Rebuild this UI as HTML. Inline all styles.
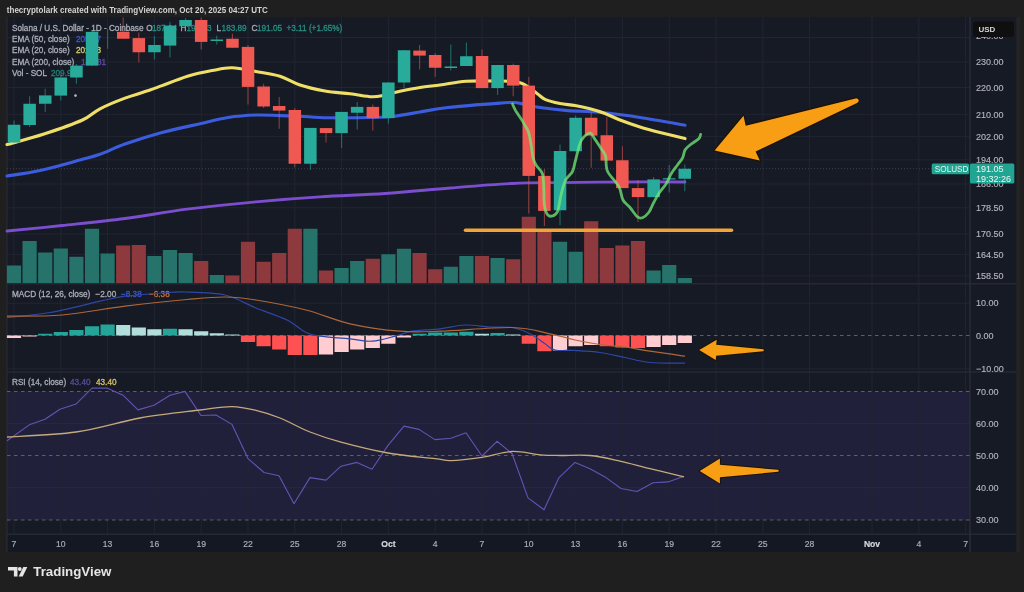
<!DOCTYPE html><html><head><meta charset="utf-8"><style>
html,body{margin:0;padding:0;background:#1f1f1f;width:1024px;height:592px;overflow:hidden}
svg{display:block;will-change:transform;filter:blur(0.35px)}
text{font-family:"Liberation Sans",sans-serif}
</style></head><body>
<svg width="1024" height="592" viewBox="0 0 1024 592">
<rect x="0" y="0" width="1024" height="592" fill="#1f1f1f"/>
<g opacity="0.996">

<rect x="1016.2" y="17" width="3.7" height="535" fill="#252525"/>
<rect x="7" y="17" width="1009.2" height="517" fill="#161a25"/>
<rect x="7" y="534" width="1009.2" height="18" fill="#141823"/>
<rect x="7" y="391.5" width="963" height="128.5" fill="#22213b"/>
<line x1="7" y1="37.5" x2="970" y2="37.5" stroke="#222633" stroke-width="1"/>
<line x1="7" y1="62.0" x2="970" y2="62.0" stroke="#222633" stroke-width="1"/>
<line x1="7" y1="87.5" x2="970" y2="87.5" stroke="#222633" stroke-width="1"/>
<line x1="7" y1="114.3" x2="970" y2="114.3" stroke="#222633" stroke-width="1"/>
<line x1="7" y1="136.6" x2="970" y2="136.6" stroke="#222633" stroke-width="1"/>
<line x1="7" y1="159.8" x2="970" y2="159.8" stroke="#222633" stroke-width="1"/>
<line x1="7" y1="184.0" x2="970" y2="184.0" stroke="#222633" stroke-width="1"/>
<line x1="7" y1="207.7" x2="970" y2="207.7" stroke="#222633" stroke-width="1"/>
<line x1="7" y1="234.0" x2="970" y2="234.0" stroke="#222633" stroke-width="1"/>
<line x1="7" y1="254.6" x2="970" y2="254.6" stroke="#222633" stroke-width="1"/>
<line x1="7" y1="275.9" x2="970" y2="275.9" stroke="#222633" stroke-width="1"/>
<line x1="7" y1="303.25" x2="970" y2="303.25" stroke="#222633" stroke-width="1"/>
<line x1="7" y1="368.75" x2="970" y2="368.75" stroke="#222633" stroke-width="1"/>
<line x1="7" y1="423.6" x2="970" y2="423.6" stroke="#2a2942" stroke-width="1"/>
<line x1="7" y1="487.7" x2="970" y2="487.7" stroke="#2a2942" stroke-width="1"/>
<line x1="14.0" y1="17" x2="14.0" y2="534" stroke="#222633" stroke-width="1"/>
<line x1="60.8" y1="17" x2="60.8" y2="534" stroke="#222633" stroke-width="1"/>
<line x1="107.6" y1="17" x2="107.6" y2="534" stroke="#222633" stroke-width="1"/>
<line x1="154.4" y1="17" x2="154.4" y2="534" stroke="#222633" stroke-width="1"/>
<line x1="201.2" y1="17" x2="201.2" y2="534" stroke="#222633" stroke-width="1"/>
<line x1="248.0" y1="17" x2="248.0" y2="534" stroke="#222633" stroke-width="1"/>
<line x1="294.8" y1="17" x2="294.8" y2="534" stroke="#222633" stroke-width="1"/>
<line x1="341.6" y1="17" x2="341.6" y2="534" stroke="#222633" stroke-width="1"/>
<line x1="388.4" y1="17" x2="388.4" y2="534" stroke="#222633" stroke-width="1"/>
<line x1="435.2" y1="17" x2="435.2" y2="534" stroke="#222633" stroke-width="1"/>
<line x1="482.0" y1="17" x2="482.0" y2="534" stroke="#222633" stroke-width="1"/>
<line x1="528.8" y1="17" x2="528.8" y2="534" stroke="#222633" stroke-width="1"/>
<line x1="575.6" y1="17" x2="575.6" y2="534" stroke="#222633" stroke-width="1"/>
<line x1="622.4" y1="17" x2="622.4" y2="534" stroke="#222633" stroke-width="1"/>
<line x1="669.2" y1="17" x2="669.2" y2="534" stroke="#222633" stroke-width="1"/>
<line x1="716.0" y1="17" x2="716.0" y2="534" stroke="#222633" stroke-width="1"/>
<line x1="762.8" y1="17" x2="762.8" y2="534" stroke="#222633" stroke-width="1"/>
<line x1="809.6" y1="17" x2="809.6" y2="534" stroke="#222633" stroke-width="1"/>
<line x1="872.0" y1="17" x2="872.0" y2="534" stroke="#222633" stroke-width="1"/>
<line x1="918.8" y1="17" x2="918.8" y2="534" stroke="#222633" stroke-width="1"/>
<line x1="965.6" y1="17" x2="965.6" y2="534" stroke="#222633" stroke-width="1"/>
<line x1="7" y1="283.8" x2="1016.2" y2="283.8" stroke="#262a35" stroke-width="1.5"/>
<line x1="7" y1="372" x2="1016.2" y2="372" stroke="#262a35" stroke-width="1.5"/>
<line x1="7" y1="534.2" x2="1016.2" y2="534.2" stroke="#262a35" stroke-width="1.5"/>
<line x1="970" y1="17" x2="970" y2="552" stroke="#2a2e39" stroke-width="1.5"/>
<line x1="7" y1="17" x2="7" y2="552" stroke="#2a2e39" stroke-width="1"/>
<line x1="7" y1="335.5" x2="970" y2="335.5" stroke="#5c606c" stroke-width="1" stroke-dasharray="3.5 3.5"/>
<line x1="7" y1="391.5" x2="970" y2="391.5" stroke="#5c606c" stroke-width="1" stroke-dasharray="3.5 3.5"/>
<line x1="7" y1="455.5" x2="970" y2="455.5" stroke="#5c606c" stroke-width="1" stroke-dasharray="3.5 3.5"/>
<line x1="7" y1="520" x2="970" y2="520" stroke="#5c606c" stroke-width="1" stroke-dasharray="3.5 3.5"/>
<line x1="7" y1="168.7" x2="970" y2="168.7" stroke="#3c4050" stroke-width="1" stroke-dasharray="1 2"/>
<text x="6.8" y="13.3" font-size="9.4" font-weight="bold" textLength="261" lengthAdjust="spacingAndGlyphs" fill="#d4d4d4">thecryptolark created with TradingView.com, Oct 20, 2025 04:27 UTC</text>
<g opacity="0.92"><text x="12" y="31.2" font-size="8.2" fill="#b8bbc4" stroke="#b8bbc4" stroke-width="0.3">Solana / U.S. Dollar - 1D - Coinbase</text><text x="146.2" y="31.2" font-size="8.2" fill="#b8bbc4" stroke="#b8bbc4" stroke-width="0.3">O</text><text x="152" y="31.2" font-size="8.2" fill="#2a9a8a" stroke="#2a9a8a" stroke-width="0.3">187.94</text><text x="180.6" y="31.2" font-size="8.2" fill="#b8bbc4" stroke="#b8bbc4" stroke-width="0.3">H</text><text x="186.5" y="31.2" font-size="8.2" fill="#2a9a8a" stroke="#2a9a8a" stroke-width="0.3">192.53</text><text x="216.4" y="31.2" font-size="8.2" fill="#b8bbc4" stroke="#b8bbc4" stroke-width="0.3">L</text><text x="221.6" y="31.2" font-size="8.2" fill="#2a9a8a" stroke="#2a9a8a" stroke-width="0.3">183.89</text><text x="251.6" y="31.2" font-size="8.2" fill="#b8bbc4" stroke="#b8bbc4" stroke-width="0.3">C</text><text x="257" y="31.2" font-size="8.2" fill="#2a9a8a" stroke="#2a9a8a" stroke-width="0.3">191.05</text><text x="286.5" y="31.2" font-size="8.2" fill="#2a9a8a" stroke="#2a9a8a" stroke-width="0.3">+3.11 (+1.65%)</text><text x="12" y="42.4" font-size="8.2" fill="#b8bbc4" stroke="#b8bbc4" stroke-width="0.3">EMA (50, close)</text><text x="75.9" y="42.4" font-size="8.2" fill="#3f5fe0" stroke="#3f5fe0" stroke-width="0.3">205.47</text><text x="12" y="53.4" font-size="8.2" fill="#b8bbc4" stroke="#b8bbc4" stroke-width="0.3">EMA (20, close)</text><text x="76" y="53.4" font-size="8.2" fill="#e8dc72" stroke="#e8dc72" stroke-width="0.3">201.33</text><text x="12" y="64.6" font-size="8.2" fill="#b8bbc4" stroke="#b8bbc4" stroke-width="0.3">EMA (200, close)</text><text x="81" y="64.6" font-size="8.2" fill="#6a4fb0" stroke="#6a4fb0" stroke-width="0.3">186.81</text><text x="12" y="75.9" font-size="8.2" fill="#b8bbc4" stroke="#b8bbc4" stroke-width="0.3">Vol - SOL</text><text x="51" y="75.9" font-size="8.2" fill="#2a8a7e" stroke="#2a8a7e" stroke-width="0.3">209.9K</text><text x="12" y="297" font-size="8.2" fill="#b8bbc4" stroke="#b8bbc4" stroke-width="0.3">MACD (12, 26, close)</text><text x="95.5" y="297" font-size="8.2" fill="#b8bbc4" stroke="#b8bbc4" stroke-width="0.3">−2.00</text><text x="121" y="297" font-size="8.2" fill="#3d5ddf" stroke="#3d5ddf" stroke-width="0.3">−8.38</text><text x="149" y="297" font-size="8.2" fill="#d9773a" stroke="#d9773a" stroke-width="0.3">−6.38</text><text x="12" y="385" font-size="8.2" fill="#b8bbc4" stroke="#b8bbc4" stroke-width="0.3">RSI (14, close)</text><text x="70" y="385" font-size="8.2" fill="#5e50a6" stroke="#5e50a6" stroke-width="0.3">43.40</text><text x="96" y="385" font-size="8.2" fill="#e6d070" stroke="#e6d070" stroke-width="0.3">43.40</text></g>
<rect x="6.9" y="265.5" width="14.2" height="17.50" fill="#26746c"/>
<rect x="22.5" y="241" width="14.2" height="42.00" fill="#26746c"/>
<rect x="38.1" y="252.5" width="14.2" height="30.50" fill="#26746c"/>
<rect x="53.7" y="248.5" width="14.2" height="34.50" fill="#26746c"/>
<rect x="69.3" y="256.75" width="14.2" height="26.25" fill="#26746c"/>
<rect x="84.9" y="228.75" width="14.2" height="54.25" fill="#26746c"/>
<rect x="100.5" y="253.5" width="14.2" height="29.50" fill="#26746c"/>
<rect x="116.1" y="245.5" width="14.2" height="37.50" fill="#8f3a3e"/>
<rect x="131.7" y="245" width="14.2" height="38.00" fill="#8f3a3e"/>
<rect x="147.3" y="256" width="14.2" height="27.00" fill="#26746c"/>
<rect x="162.9" y="250" width="14.2" height="33.00" fill="#26746c"/>
<rect x="178.5" y="253" width="14.2" height="30.00" fill="#26746c"/>
<rect x="194.1" y="261" width="14.2" height="22.00" fill="#8f3a3e"/>
<rect x="209.7" y="275" width="14.2" height="8.00" fill="#26746c"/>
<rect x="225.3" y="275.5" width="14.2" height="7.50" fill="#8f3a3e"/>
<rect x="240.9" y="241.75" width="14.2" height="41.25" fill="#8f3a3e"/>
<rect x="256.5" y="261.75" width="14.2" height="21.25" fill="#8f3a3e"/>
<rect x="272.1" y="253" width="14.2" height="30.00" fill="#8f3a3e"/>
<rect x="287.7" y="228.75" width="14.2" height="54.25" fill="#8f3a3e"/>
<rect x="303.3" y="228.75" width="14.2" height="54.25" fill="#26746c"/>
<rect x="318.9" y="270.5" width="14.2" height="12.50" fill="#8f3a3e"/>
<rect x="334.5" y="268" width="14.2" height="15.00" fill="#26746c"/>
<rect x="350.1" y="261" width="14.2" height="22.00" fill="#26746c"/>
<rect x="365.7" y="258.75" width="14.2" height="24.25" fill="#8f3a3e"/>
<rect x="381.3" y="254.25" width="14.2" height="28.75" fill="#26746c"/>
<rect x="396.9" y="248.75" width="14.2" height="34.25" fill="#26746c"/>
<rect x="412.5" y="253" width="14.2" height="30.00" fill="#8f3a3e"/>
<rect x="428.1" y="269.25" width="14.2" height="13.75" fill="#8f3a3e"/>
<rect x="443.7" y="266.75" width="14.2" height="16.25" fill="#26746c"/>
<rect x="459.3" y="256" width="14.2" height="27.00" fill="#26746c"/>
<rect x="474.9" y="256" width="14.2" height="27.00" fill="#8f3a3e"/>
<rect x="490.5" y="258" width="14.2" height="25.00" fill="#26746c"/>
<rect x="506.1" y="259.25" width="14.2" height="23.75" fill="#8f3a3e"/>
<rect x="521.7" y="216.75" width="14.2" height="66.25" fill="#8f3a3e"/>
<rect x="537.3" y="229" width="14.2" height="54.00" fill="#8f3a3e"/>
<rect x="552.9" y="241.75" width="14.2" height="41.25" fill="#26746c"/>
<rect x="568.5" y="251.75" width="14.2" height="31.25" fill="#26746c"/>
<rect x="584.1" y="221.25" width="14.2" height="61.75" fill="#8f3a3e"/>
<rect x="599.7" y="248" width="14.2" height="35.00" fill="#8f3a3e"/>
<rect x="615.3" y="245.5" width="14.2" height="37.50" fill="#8f3a3e"/>
<rect x="630.9" y="241" width="14.2" height="42.00" fill="#8f3a3e"/>
<rect x="646.5" y="270.5" width="14.2" height="12.50" fill="#26746c"/>
<rect x="662.1" y="265" width="14.2" height="18.00" fill="#26746c"/>
<rect x="677.7" y="278" width="14.2" height="5.00" fill="#26746c"/>
<path d="M7.0,231.0 C16.2,230.1 42.3,227.6 62.0,225.5 C81.7,223.4 104.2,221.2 125.0,218.5 C145.8,215.8 165.2,212.0 187.0,209.2 C208.8,206.5 233.8,203.8 256.0,201.8 C278.2,199.7 298.5,198.1 320.0,196.8 C341.5,195.4 363.3,195.0 385.0,193.5 C406.7,192.0 428.8,189.7 450.0,188.0 C471.2,186.3 493.7,184.4 512.0,183.5 C530.3,182.6 541.2,182.8 560.0,182.6 C578.8,182.3 604.2,182.1 625.0,182.0 C645.8,181.9 675.0,182.0 685.0,182.0" fill="none" stroke="#7c4fd0" stroke-width="2.8" stroke-linecap="round"/>
<path d="M7.0,176.0 C12.5,175.1 27.8,173.2 40.0,170.5 C52.2,167.8 70.0,162.7 80.0,160.0 C90.0,157.3 92.5,157.0 100.0,154.3 C107.5,151.6 114.7,147.6 125.0,144.0 C135.3,140.4 149.5,135.9 162.0,132.5 C174.5,129.1 189.0,126.2 200.0,123.8 C211.0,121.2 218.7,119.0 228.0,117.5 C237.3,116.0 247.3,115.3 256.0,115.0 C264.7,114.7 272.7,115.4 280.0,115.6 C287.3,115.8 292.0,115.9 300.0,116.2 C308.0,116.6 316.0,117.6 328.0,117.8 C340.0,118.0 361.0,117.8 372.0,117.5 C383.0,117.2 386.0,117.2 394.0,116.2 C402.0,115.3 411.0,113.5 420.0,112.0 C429.0,110.5 434.7,109.0 448.0,107.5 C461.3,106.0 489.0,103.9 500.0,103.1 C511.0,102.3 509.8,102.3 514.0,102.5 C518.2,102.7 520.7,103.6 525.0,104.4 C529.3,105.2 532.8,106.5 540.0,107.5 C547.2,108.5 558.0,109.8 568.0,110.6 C578.0,111.4 588.0,111.1 600.0,112.3 C612.0,113.5 625.8,115.3 640.0,117.5 C654.2,119.7 677.5,123.9 685.0,125.2" fill="none" stroke="#3d5ddf" stroke-width="3.1" stroke-linecap="round"/>
<path d="M7.0,144.6 C13.2,142.8 31.4,138.1 44.0,134.0 C56.6,129.9 73.2,124.2 82.5,120.0 C91.8,115.8 92.9,112.4 100.0,108.8 C107.1,105.1 116.7,101.2 125.0,98.1 C133.3,95.0 143.8,92.1 150.0,90.0 C156.2,87.9 155.8,87.9 162.0,85.6 C168.2,83.3 179.2,78.8 187.5,76.2 C195.8,73.8 204.6,72.0 212.0,70.6 C219.4,69.2 224.7,67.6 232.0,67.8 C239.3,68.0 248.0,70.1 256.0,71.5 C264.0,72.9 272.7,74.0 280.0,76.2 C287.3,78.5 292.5,82.5 300.0,85.0 C307.5,87.5 316.7,89.5 325.0,91.0 C333.3,92.5 342.2,92.8 350.0,93.8 C357.8,94.7 366.2,96.6 372.0,96.8 C377.8,97.0 380.3,95.9 385.0,95.0 C389.7,94.1 394.2,92.5 400.0,91.2 C405.8,90.0 413.3,88.5 420.0,87.5 C426.7,86.5 432.3,86.0 440.0,85.0 C447.7,84.0 456.8,81.9 466.0,81.2 C475.2,80.6 486.0,80.8 495.0,81.0 C504.0,81.2 513.0,80.6 520.0,82.7 C527.0,84.8 532.8,90.7 537.0,93.5 C541.2,96.3 541.2,97.7 545.0,99.4 C548.8,101.1 555.0,102.5 560.0,103.5 C565.0,104.5 570.0,104.6 575.0,105.5 C580.0,106.4 585.0,107.5 590.0,108.8 C595.0,110.1 600.0,111.6 605.0,113.5 C610.0,115.4 614.2,117.8 620.0,120.0 C625.8,122.2 633.3,124.9 640.0,127.0 C646.7,129.1 652.5,130.6 660.0,132.5 C667.5,134.4 680.8,137.6 685.0,138.6" fill="none" stroke="#f0e06a" stroke-width="3.1" stroke-linecap="round"/>
<line x1="14.0" y1="120.6" x2="14.0" y2="143" stroke="#29ac9b" stroke-width="1.1" opacity="0.55"/>
<rect x="7.8" y="124.75" width="12.5" height="17.75" fill="#29ac9b"/>
<line x1="29.6" y1="96.25" x2="29.6" y2="126.9" stroke="#29ac9b" stroke-width="1.1" opacity="0.55"/>
<rect x="23.4" y="103.75" width="12.5" height="21.25" fill="#29ac9b"/>
<line x1="45.2" y1="88.75" x2="45.2" y2="111.9" stroke="#29ac9b" stroke-width="1.1" opacity="0.55"/>
<rect x="39.0" y="95.4" width="12.5" height="8.35" fill="#29ac9b"/>
<line x1="60.8" y1="75" x2="60.8" y2="100.6" stroke="#29ac9b" stroke-width="1.1" opacity="0.55"/>
<rect x="54.5" y="77.5" width="12.5" height="18.10" fill="#29ac9b"/>
<line x1="76.4" y1="64" x2="76.4" y2="83.75" stroke="#29ac9b" stroke-width="1.1" opacity="0.55"/>
<rect x="70.2" y="65.6" width="12.5" height="11.90" fill="#29ac9b"/>
<line x1="92.0" y1="30" x2="92.0" y2="66" stroke="#29ac9b" stroke-width="1.1" opacity="0.55"/>
<rect x="85.8" y="31.9" width="12.5" height="33.70" fill="#29ac9b"/>
<line x1="107.6" y1="29" x2="107.6" y2="48.75" stroke="#29ac9b" stroke-width="1.1" opacity="0.55"/>
<line x1="123.2" y1="17.5" x2="123.2" y2="38.75" stroke="#f15a52" stroke-width="1.1" opacity="0.55"/>
<rect x="117.0" y="31.9" width="12.5" height="6.85" fill="#f15a52"/>
<line x1="138.8" y1="32.5" x2="138.8" y2="62.5" stroke="#f15a52" stroke-width="1.1" opacity="0.55"/>
<rect x="132.6" y="38.1" width="12.5" height="14.15" fill="#f15a52"/>
<line x1="154.4" y1="36" x2="154.4" y2="59.4" stroke="#29ac9b" stroke-width="1.1" opacity="0.55"/>
<rect x="148.2" y="45" width="12.5" height="7.25" fill="#29ac9b"/>
<line x1="170.0" y1="21.9" x2="170.0" y2="57.5" stroke="#29ac9b" stroke-width="1.1" opacity="0.55"/>
<rect x="163.8" y="25.6" width="12.5" height="20.00" fill="#29ac9b"/>
<line x1="185.6" y1="18" x2="185.6" y2="26.25" stroke="#29ac9b" stroke-width="1.1" opacity="0.55"/>
<rect x="179.3" y="20" width="12.5" height="6.25" fill="#29ac9b"/>
<line x1="201.2" y1="17.5" x2="201.2" y2="49.4" stroke="#f15a52" stroke-width="1.1" opacity="0.55"/>
<rect x="194.9" y="20" width="12.5" height="21.90" fill="#f15a52"/>
<line x1="216.8" y1="35.6" x2="216.8" y2="44.4" stroke="#29ac9b" stroke-width="1.1" opacity="0.55"/>
<rect x="210.5" y="39.5" width="12.5" height="1.50" fill="#29ac9b"/>
<line x1="232.4" y1="33.75" x2="232.4" y2="47.75" stroke="#f15a52" stroke-width="1.1" opacity="0.55"/>
<rect x="226.2" y="38.75" width="12.5" height="9.00" fill="#f15a52"/>
<line x1="248.0" y1="45" x2="248.0" y2="104.4" stroke="#f15a52" stroke-width="1.1" opacity="0.55"/>
<rect x="241.8" y="46.9" width="12.5" height="40.00" fill="#f15a52"/>
<line x1="263.6" y1="83.75" x2="263.6" y2="108" stroke="#f15a52" stroke-width="1.1" opacity="0.55"/>
<rect x="257.4" y="86.5" width="12.5" height="20.00" fill="#f15a52"/>
<line x1="279.2" y1="96.9" x2="279.2" y2="128.75" stroke="#f15a52" stroke-width="1.1" opacity="0.55"/>
<rect x="272.9" y="106" width="12.5" height="4.60" fill="#f15a52"/>
<line x1="294.8" y1="108" x2="294.8" y2="167.5" stroke="#f15a52" stroke-width="1.1" opacity="0.55"/>
<rect x="288.6" y="110" width="12.5" height="53.75" fill="#f15a52"/>
<line x1="310.4" y1="127.9" x2="310.4" y2="170" stroke="#29ac9b" stroke-width="1.1" opacity="0.55"/>
<rect x="304.1" y="127.9" width="12.5" height="35.85" fill="#29ac9b"/>
<line x1="326.0" y1="128" x2="326.0" y2="142.5" stroke="#f15a52" stroke-width="1.1" opacity="0.55"/>
<rect x="319.8" y="128.1" width="12.5" height="5.00" fill="#f15a52"/>
<line x1="341.6" y1="111.9" x2="341.6" y2="148.1" stroke="#29ac9b" stroke-width="1.1" opacity="0.55"/>
<rect x="335.3" y="111.9" width="12.5" height="21.20" fill="#29ac9b"/>
<line x1="357.2" y1="101.9" x2="357.2" y2="129.4" stroke="#29ac9b" stroke-width="1.1" opacity="0.55"/>
<rect x="350.9" y="106.9" width="12.5" height="5.85" fill="#29ac9b"/>
<line x1="372.8" y1="104.4" x2="372.8" y2="130.6" stroke="#f15a52" stroke-width="1.1" opacity="0.55"/>
<rect x="366.6" y="106.9" width="12.5" height="11.20" fill="#f15a52"/>
<line x1="388.4" y1="82.25" x2="388.4" y2="123.75" stroke="#29ac9b" stroke-width="1.1" opacity="0.55"/>
<rect x="382.1" y="82.5" width="12.5" height="35.60" fill="#29ac9b"/>
<line x1="404.0" y1="50" x2="404.0" y2="88.1" stroke="#29ac9b" stroke-width="1.1" opacity="0.55"/>
<rect x="397.8" y="50.25" width="12.5" height="32.25" fill="#29ac9b"/>
<line x1="419.6" y1="45" x2="419.6" y2="69.4" stroke="#f15a52" stroke-width="1.1" opacity="0.55"/>
<rect x="413.3" y="50.6" width="12.5" height="5.00" fill="#f15a52"/>
<line x1="435.2" y1="53.1" x2="435.2" y2="76.9" stroke="#f15a52" stroke-width="1.1" opacity="0.55"/>
<rect x="428.9" y="55" width="12.5" height="12.75" fill="#f15a52"/>
<line x1="450.8" y1="44.4" x2="450.8" y2="70.6" stroke="#29ac9b" stroke-width="1.1" opacity="0.55"/>
<rect x="444.6" y="66.5" width="12.5" height="1.50" fill="#29ac9b"/>
<line x1="466.4" y1="42.5" x2="466.4" y2="66" stroke="#29ac9b" stroke-width="1.1" opacity="0.55"/>
<rect x="460.1" y="56.25" width="12.5" height="9.75" fill="#29ac9b"/>
<line x1="482.0" y1="49.4" x2="482.0" y2="88.1" stroke="#f15a52" stroke-width="1.1" opacity="0.55"/>
<rect x="475.8" y="56" width="12.5" height="32.10" fill="#f15a52"/>
<line x1="497.6" y1="65" x2="497.6" y2="95" stroke="#29ac9b" stroke-width="1.1" opacity="0.55"/>
<rect x="491.3" y="65" width="12.5" height="23.10" fill="#29ac9b"/>
<line x1="513.2" y1="63.75" x2="513.2" y2="96.25" stroke="#f15a52" stroke-width="1.1" opacity="0.55"/>
<rect x="507.0" y="65" width="12.5" height="20.60" fill="#f15a52"/>
<line x1="528.8" y1="76.9" x2="528.8" y2="213.4" stroke="#f15a52" stroke-width="1.1" opacity="0.55"/>
<rect x="522.5" y="85.6" width="12.5" height="90.30" fill="#f15a52"/>
<line x1="544.4" y1="169" x2="544.4" y2="225.9" stroke="#f15a52" stroke-width="1.1" opacity="0.55"/>
<rect x="538.1" y="175.9" width="12.5" height="35.00" fill="#f15a52"/>
<line x1="560.0" y1="144.4" x2="560.0" y2="225.25" stroke="#29ac9b" stroke-width="1.1" opacity="0.55"/>
<rect x="553.8" y="151" width="12.5" height="59.25" fill="#29ac9b"/>
<line x1="575.6" y1="115.6" x2="575.6" y2="151.25" stroke="#29ac9b" stroke-width="1.1" opacity="0.55"/>
<rect x="569.4" y="117.75" width="12.5" height="33.50" fill="#29ac9b"/>
<line x1="591.2" y1="112.5" x2="591.2" y2="167.75" stroke="#f15a52" stroke-width="1.1" opacity="0.55"/>
<rect x="584.9" y="117.75" width="12.5" height="17.85" fill="#f15a52"/>
<line x1="606.8" y1="116.9" x2="606.8" y2="160.6" stroke="#f15a52" stroke-width="1.1" opacity="0.55"/>
<rect x="600.5" y="135.25" width="12.5" height="25.35" fill="#f15a52"/>
<line x1="622.4" y1="146.25" x2="622.4" y2="188.1" stroke="#f15a52" stroke-width="1.1" opacity="0.55"/>
<rect x="616.1" y="160.25" width="12.5" height="27.85" fill="#f15a52"/>
<line x1="638.0" y1="180" x2="638.0" y2="221.9" stroke="#f15a52" stroke-width="1.1" opacity="0.55"/>
<rect x="631.8" y="188.1" width="12.5" height="9.00" fill="#f15a52"/>
<line x1="653.6" y1="176.9" x2="653.6" y2="197.1" stroke="#29ac9b" stroke-width="1.1" opacity="0.55"/>
<rect x="647.4" y="179.4" width="12.5" height="17.70" fill="#29ac9b"/>
<line x1="669.2" y1="165" x2="669.2" y2="192.5" stroke="#29ac9b" stroke-width="1.1" opacity="0.55"/>
<rect x="662.9" y="178.25" width="12.5" height="1.20" fill="#29ac9b"/>
<line x1="684.8" y1="164.4" x2="684.8" y2="191.25" stroke="#29ac9b" stroke-width="1.1" opacity="0.55"/>
<rect x="678.5" y="168.75" width="12.5" height="10.00" fill="#29ac9b"/>
<circle cx="75.5" cy="95.6" r="1.3" fill="#b8bcc4"/>
<path d="M512.5,104.0 C513.0,105.1 513.9,107.6 515.6,110.6 C517.4,113.6 520.9,118.3 523.0,121.9 C525.1,125.5 527.2,128.3 528.5,132.0 C529.8,135.7 530.2,139.8 531.0,144.0 C531.8,148.2 532.2,154.0 533.0,157.5 C533.8,161.0 534.4,162.2 536.0,165.0 C537.6,167.8 541.2,170.0 542.5,174.0 C543.8,178.0 543.5,183.8 543.8,189.0 C544.1,194.2 543.8,200.7 544.4,205.0 C545.0,209.3 546.1,212.8 547.5,214.6 C548.9,216.4 550.8,216.5 552.5,216.0 C554.2,215.5 556.0,215.2 557.5,211.5 C559.0,207.8 559.9,199.2 561.2,194.0 C562.6,188.8 563.7,183.9 565.6,180.2 C567.5,176.4 570.8,174.9 572.5,171.5 C574.2,168.1 574.1,165.2 575.6,160.0 C577.1,154.8 578.8,145.1 581.2,140.6 C583.6,136.1 587.7,133.3 590.0,133.1 C592.3,132.9 593.1,136.8 595.0,139.4 C596.9,142.0 599.4,145.9 601.2,148.7 C603.0,151.5 604.6,152.4 605.6,156.2 C606.6,159.9 605.3,166.2 607.5,171.2 C609.7,176.2 616.1,181.4 618.7,186.2 C621.3,191.0 621.1,196.4 623.0,200.0 C624.9,203.6 627.6,204.7 630.0,207.5 C632.4,210.3 635.4,215.2 637.5,216.9 C639.6,218.6 640.6,218.4 642.5,217.7 C644.4,217.0 646.8,215.0 648.7,212.5 C650.6,210.0 652.0,205.6 653.7,202.5 C655.4,199.4 656.6,196.8 658.7,193.7 C660.8,190.6 664.1,187.0 666.2,183.7 C668.3,180.4 669.3,176.8 671.2,173.7 C673.1,170.6 675.6,167.6 677.5,165.0 C679.4,162.4 681.2,160.5 682.5,158.0 C683.8,155.5 683.8,152.2 685.0,150.0 C686.2,147.8 687.7,146.9 690.0,145.0 C692.3,143.1 696.9,140.5 698.7,138.7 C700.5,136.9 700.3,135.1 700.6,134.4" fill="none" stroke="#72ea76" stroke-width="2.8" opacity="0.76" stroke-linecap="round" stroke-linejoin="round"/>
<line x1="465.5" y1="230.3" x2="731.5" y2="230.3" stroke="#f3a53a" stroke-width="3.6" stroke-linecap="round"/>
<path d="M714.6,150.6 L743.5,115.7 L745.7,125.7 L856.5,98.2 Q860.5,99.5 857.5,102.8 L755.6,151.5 L759.8,160.6 Z" fill="#f89f14" stroke="#1c1208" stroke-width="2.6" paint-order="stroke" stroke-linejoin="round"/>
<rect x="6.9" y="335.50" width="14.2" height="2.50" fill="#ffcdd2"/>
<rect x="22.5" y="335.50" width="14.2" height="1.00" fill="#ffcdd2"/>
<rect x="38.1" y="333.75" width="14.2" height="1.75" fill="#26a69a"/>
<rect x="53.7" y="332.00" width="14.2" height="3.50" fill="#26a69a"/>
<rect x="69.3" y="330.00" width="14.2" height="5.50" fill="#26a69a"/>
<rect x="84.9" y="326.25" width="14.2" height="9.25" fill="#26a69a"/>
<rect x="100.5" y="324.50" width="14.2" height="11.00" fill="#26a69a"/>
<rect x="116.1" y="325.00" width="14.2" height="10.50" fill="#b2dfdb"/>
<rect x="131.7" y="327.50" width="14.2" height="8.00" fill="#b2dfdb"/>
<rect x="147.3" y="329.25" width="14.2" height="6.25" fill="#b2dfdb"/>
<rect x="162.9" y="328.75" width="14.2" height="6.75" fill="#26a69a"/>
<rect x="178.5" y="329.25" width="14.2" height="6.25" fill="#b2dfdb"/>
<rect x="194.1" y="331.25" width="14.2" height="4.25" fill="#b2dfdb"/>
<rect x="209.7" y="333.25" width="14.2" height="2.25" fill="#b2dfdb"/>
<rect x="225.3" y="334.50" width="14.2" height="1.00" fill="#b2dfdb"/>
<rect x="240.9" y="335.50" width="14.2" height="6.50" fill="#ff5252"/>
<rect x="256.5" y="335.50" width="14.2" height="10.75" fill="#ff5252"/>
<rect x="272.1" y="335.50" width="14.2" height="14.00" fill="#ff5252"/>
<rect x="287.7" y="335.50" width="14.2" height="19.50" fill="#ff5252"/>
<rect x="303.3" y="335.50" width="14.2" height="19.50" fill="#ff5252"/>
<rect x="318.9" y="335.50" width="14.2" height="19.00" fill="#ffcdd2"/>
<rect x="334.5" y="335.50" width="14.2" height="16.50" fill="#ffcdd2"/>
<rect x="350.1" y="335.50" width="14.2" height="14.00" fill="#ffcdd2"/>
<rect x="365.7" y="335.50" width="14.2" height="12.50" fill="#ffcdd2"/>
<rect x="381.3" y="335.50" width="14.2" height="8.25" fill="#ffcdd2"/>
<rect x="396.9" y="335.50" width="14.2" height="2.00" fill="#ffcdd2"/>
<rect x="412.5" y="333.75" width="14.2" height="1.75" fill="#26a69a"/>
<rect x="428.1" y="332.50" width="14.2" height="3.00" fill="#26a69a"/>
<rect x="443.7" y="332.50" width="14.2" height="3.00" fill="#26a69a"/>
<rect x="459.3" y="331.75" width="14.2" height="3.75" fill="#26a69a"/>
<rect x="474.9" y="333.75" width="14.2" height="1.75" fill="#b2dfdb"/>
<rect x="490.5" y="333.00" width="14.2" height="2.50" fill="#26a69a"/>
<rect x="506.1" y="334.50" width="14.2" height="1.00" fill="#b2dfdb"/>
<rect x="521.7" y="335.50" width="14.2" height="8.25" fill="#ff5252"/>
<rect x="537.3" y="335.50" width="14.2" height="15.75" fill="#ff5252"/>
<rect x="552.9" y="335.50" width="14.2" height="15.00" fill="#ffcdd2"/>
<rect x="568.5" y="335.50" width="14.2" height="10.75" fill="#ffcdd2"/>
<rect x="584.1" y="335.50" width="14.2" height="9.50" fill="#ffcdd2"/>
<rect x="599.7" y="335.50" width="14.2" height="10.75" fill="#ff5252"/>
<rect x="615.3" y="335.50" width="14.2" height="12.00" fill="#ff5252"/>
<rect x="630.9" y="335.50" width="14.2" height="12.50" fill="#ff5252"/>
<rect x="646.5" y="335.50" width="14.2" height="11.50" fill="#ffcdd2"/>
<rect x="662.1" y="335.50" width="14.2" height="9.50" fill="#ffcdd2"/>
<rect x="677.7" y="335.50" width="14.2" height="7.50" fill="#ffcdd2"/>
<path d="M7.0,317.5 C14.2,316.7 34.5,315.2 50.0,312.5 C65.5,309.8 87.5,304.0 100.0,301.2 C112.5,298.5 114.7,297.6 125.0,296.2 C135.3,294.9 152.0,293.7 162.0,293.0 C172.0,292.3 174.5,291.7 185.0,292.0 C195.5,292.3 213.2,292.3 225.0,295.0 C236.8,297.7 245.7,303.8 256.0,308.0 C266.3,312.2 278.7,315.9 287.0,320.0 C295.3,324.1 300.5,329.8 306.0,332.5 C311.5,335.2 312.7,335.2 320.0,336.2 C327.3,337.3 341.3,337.9 350.0,338.8 C358.7,339.6 364.5,341.7 372.0,341.2 C379.5,340.8 388.3,337.9 395.0,336.2 C401.7,334.6 404.5,332.5 412.0,331.2 C419.5,330.0 431.2,329.8 440.0,328.8 C448.8,327.7 456.7,325.3 465.0,325.0 C473.3,324.7 482.2,326.6 490.0,327.0 C497.8,327.4 505.3,326.4 512.0,327.5 C518.7,328.6 524.5,331.0 530.0,333.8 C535.5,336.5 540.8,341.0 545.0,343.8 C549.2,346.5 550.0,348.9 555.0,350.0 C560.0,351.1 567.5,350.1 575.0,350.5 C582.5,350.9 591.7,351.3 600.0,352.5 C608.3,353.7 616.7,355.8 625.0,357.5 C633.3,359.2 640.0,361.5 650.0,362.5 C660.0,363.5 679.2,363.1 685.0,363.2" fill="none" stroke="#3048a8" stroke-width="1.2"/>
<path d="M7.0,316.2 C16.2,316.0 42.3,316.7 62.0,315.0 C81.7,313.3 104.2,308.8 125.0,306.2 C145.8,303.7 170.3,301.0 187.0,299.5 C203.7,298.0 213.5,296.9 225.0,297.0 C236.5,297.1 242.5,297.8 256.0,300.0 C269.5,302.2 290.3,306.0 306.0,310.0 C321.7,314.0 334.3,320.2 350.0,323.8 C365.7,327.3 385.0,330.0 400.0,331.2 C415.0,332.5 421.3,331.9 440.0,331.2 C458.7,330.6 493.7,327.1 512.0,327.5 C530.3,327.9 539.5,331.7 550.0,333.8 C560.5,335.8 566.7,338.2 575.0,340.0 C583.3,341.8 591.7,343.3 600.0,344.5 C608.3,345.7 616.7,345.9 625.0,347.0 C633.3,348.1 640.0,349.7 650.0,351.2 C660.0,352.8 679.2,355.4 685.0,356.2" fill="none" stroke="#b0683a" stroke-width="1.2"/>
<path d="M699.2,350 L716.75,339.7 L716.2,344.8 L763.3,349.3 Q764.5,350.3 763.3,351.3 L716.2,355.7 L715.7,359.9 Z" fill="#f89f14" stroke="#1c1208" stroke-width="2" paint-order="stroke" stroke-linejoin="round"/>
<path d="M7.0,440.8 L30.0,424.4 L45.0,419.3 L60.0,409.2 L76.0,404.1 L92.0,388.1 L107.0,388.1 L123.0,395.2 L138.0,409.9 L154.0,405.3 L170.0,395.2 L185.0,391.4 L201.0,415.5 L216.0,415.0 L232.0,424.4 L248.0,458.6 L264.0,472.5 L279.0,475.8 L294.0,503.7 L310.0,477.6 L326.0,480.1 L341.0,466.2 L357.0,462.4 L372.0,469.2 L388.0,445.4 L404.0,426.1 L419.0,429.4 L435.0,439.6 L451.0,438.3 L466.0,432.7 L482.0,456.0 L497.0,441.3 L512.0,453.5 L528.0,497.9 L544.0,509.8 L559.0,477.6 L575.0,462.4 L590.0,468.7 L606.0,477.6 L621.0,488.5 L637.0,491.5 L653.0,482.7 L668.0,481.9 L684.0,476.3" fill="none" stroke="#6654b4" stroke-width="1.1" stroke-linejoin="round"/>
<path d="M7.0,437.0 C18.5,436.2 53.8,435.2 76.0,432.0 C98.2,428.8 119.3,421.7 140.0,418.0 C160.7,414.3 184.7,411.9 200.0,410.0 C215.3,408.1 222.7,406.5 232.0,406.6 C241.3,406.7 248.0,408.5 256.0,410.4 C264.0,412.3 271.0,414.4 280.0,418.0 C289.0,421.6 299.8,428.0 310.0,432.0 C320.2,436.0 328.0,438.6 341.0,442.1 C354.0,445.6 372.3,450.2 388.0,453.0 C403.7,455.8 424.5,457.3 435.0,458.6 C445.5,459.9 443.2,460.8 451.0,460.6 C458.8,460.4 471.8,458.8 482.0,457.3 C492.2,455.8 502.3,451.9 512.0,451.5 C521.7,451.1 532.0,454.1 540.0,454.8 C548.0,455.5 551.7,455.4 560.0,455.5 C568.3,455.6 580.0,454.6 590.0,455.5 C600.0,456.4 610.0,458.9 620.0,461.1 C630.0,463.3 639.3,466.1 650.0,468.7 C660.7,471.3 678.3,475.4 684.0,476.8" fill="none" stroke="#c6ab7c" stroke-width="1.3"/>
<path d="M699.7,471 L719.9,458.6 L719.9,464.8 L778.2,469.8 Q779.5,470.8 778.2,471.8 L719.9,477.3 L719.9,483.5 Z" fill="#f89f14" stroke="#1c1208" stroke-width="2" paint-order="stroke" stroke-linejoin="round"/>
<text x="976" y="65.2" font-size="9" fill="#b2b5be" stroke="#b2b5be" stroke-width="0.15">230.00</text>
<text x="976" y="90.7" font-size="9" fill="#b2b5be" stroke="#b2b5be" stroke-width="0.15">220.00</text>
<text x="976" y="117.5" font-size="9" fill="#b2b5be" stroke="#b2b5be" stroke-width="0.15">210.00</text>
<text x="976" y="139.8" font-size="9" fill="#b2b5be" stroke="#b2b5be" stroke-width="0.15">202.00</text>
<text x="976" y="163.0" font-size="9" fill="#b2b5be" stroke="#b2b5be" stroke-width="0.15">194.00</text>
<text x="976" y="187.2" font-size="9" fill="#b2b5be" stroke="#b2b5be" stroke-width="0.15">186.00</text>
<text x="976" y="210.9" font-size="9" fill="#b2b5be" stroke="#b2b5be" stroke-width="0.15">178.50</text>
<text x="976" y="237.2" font-size="9" fill="#b2b5be" stroke="#b2b5be" stroke-width="0.15">170.50</text>
<text x="976" y="257.8" font-size="9" fill="#b2b5be" stroke="#b2b5be" stroke-width="0.15">164.50</text>
<text x="976" y="279.1" font-size="9" fill="#b2b5be" stroke="#b2b5be" stroke-width="0.15">158.50</text>
<text x="976" y="38.6" font-size="9" fill="#b2b5be" stroke="#b2b5be" stroke-width="0.15">240.00</text>
<text x="976" y="306.4" font-size="9" fill="#b2b5be" stroke="#b2b5be" stroke-width="0.15">10.00</text>
<text x="976" y="338.7" font-size="9" fill="#b2b5be" stroke="#b2b5be" stroke-width="0.15">0.00</text>
<text x="976" y="371.9" font-size="9" fill="#b2b5be" stroke="#b2b5be" stroke-width="0.15">−10.00</text>
<text x="976" y="394.6" font-size="9" fill="#b2b5be" stroke="#b2b5be" stroke-width="0.15">70.00</text>
<text x="976" y="426.8" font-size="9" fill="#b2b5be" stroke="#b2b5be" stroke-width="0.15">60.00</text>
<text x="976" y="458.7" font-size="9" fill="#b2b5be" stroke="#b2b5be" stroke-width="0.15">50.00</text>
<text x="976" y="490.9" font-size="9" fill="#b2b5be" stroke="#b2b5be" stroke-width="0.15">40.00</text>
<text x="976" y="523.2" font-size="9" fill="#b2b5be" stroke="#b2b5be" stroke-width="0.15">30.00</text>
<rect x="973" y="21.5" width="41" height="15.5" rx="2.5" fill="#0f0f10"/>
<text x="978.4" y="32.2" font-size="8" font-weight="bold" fill="#d6d6d6">USD</text>
<rect x="931.7" y="163.5" width="37.5" height="10.8" rx="1.5" fill="#22a592"/>
<text x="934.8" y="171.9" font-size="8.2" fill="#e8f4f2">SOLUSD</text>
<rect x="970" y="163.5" width="44.3" height="20" rx="1.5" fill="#22a592"/>
<text x="976" y="172" font-size="9" fill="#eef6f5">191.05</text>
<text x="976" y="181.7" font-size="9" fill="#eef6f5">19:32:26</text>
<text x="14.0" y="547" font-size="8.6" font-weight="normal" text-anchor="middle" fill="#a8abb4" stroke="#a8abb4" stroke-width="0.2">7</text>
<text x="60.8" y="547" font-size="8.6" font-weight="normal" text-anchor="middle" fill="#a8abb4" stroke="#a8abb4" stroke-width="0.2">10</text>
<text x="107.6" y="547" font-size="8.6" font-weight="normal" text-anchor="middle" fill="#a8abb4" stroke="#a8abb4" stroke-width="0.2">13</text>
<text x="154.4" y="547" font-size="8.6" font-weight="normal" text-anchor="middle" fill="#a8abb4" stroke="#a8abb4" stroke-width="0.2">16</text>
<text x="201.2" y="547" font-size="8.6" font-weight="normal" text-anchor="middle" fill="#a8abb4" stroke="#a8abb4" stroke-width="0.2">19</text>
<text x="248.0" y="547" font-size="8.6" font-weight="normal" text-anchor="middle" fill="#a8abb4" stroke="#a8abb4" stroke-width="0.2">22</text>
<text x="294.8" y="547" font-size="8.6" font-weight="normal" text-anchor="middle" fill="#a8abb4" stroke="#a8abb4" stroke-width="0.2">25</text>
<text x="341.6" y="547" font-size="8.6" font-weight="normal" text-anchor="middle" fill="#a8abb4" stroke="#a8abb4" stroke-width="0.2">28</text>
<text x="388.4" y="547" font-size="8.6" font-weight="bold" text-anchor="middle" fill="#d6d8de" stroke="#d6d8de" stroke-width="0.2">Oct</text>
<text x="435.2" y="547" font-size="8.6" font-weight="normal" text-anchor="middle" fill="#a8abb4" stroke="#a8abb4" stroke-width="0.2">4</text>
<text x="482.0" y="547" font-size="8.6" font-weight="normal" text-anchor="middle" fill="#a8abb4" stroke="#a8abb4" stroke-width="0.2">7</text>
<text x="528.8" y="547" font-size="8.6" font-weight="normal" text-anchor="middle" fill="#a8abb4" stroke="#a8abb4" stroke-width="0.2">10</text>
<text x="575.6" y="547" font-size="8.6" font-weight="normal" text-anchor="middle" fill="#a8abb4" stroke="#a8abb4" stroke-width="0.2">13</text>
<text x="622.4" y="547" font-size="8.6" font-weight="normal" text-anchor="middle" fill="#a8abb4" stroke="#a8abb4" stroke-width="0.2">16</text>
<text x="669.2" y="547" font-size="8.6" font-weight="normal" text-anchor="middle" fill="#a8abb4" stroke="#a8abb4" stroke-width="0.2">19</text>
<text x="716.0" y="547" font-size="8.6" font-weight="normal" text-anchor="middle" fill="#a8abb4" stroke="#a8abb4" stroke-width="0.2">22</text>
<text x="762.8" y="547" font-size="8.6" font-weight="normal" text-anchor="middle" fill="#a8abb4" stroke="#a8abb4" stroke-width="0.2">25</text>
<text x="809.6" y="547" font-size="8.6" font-weight="normal" text-anchor="middle" fill="#a8abb4" stroke="#a8abb4" stroke-width="0.2">28</text>
<text x="872.0" y="547" font-size="8.6" font-weight="bold" text-anchor="middle" fill="#d6d8de" stroke="#d6d8de" stroke-width="0.2">Nov</text>
<text x="918.8" y="547" font-size="8.6" font-weight="normal" text-anchor="middle" fill="#a8abb4" stroke="#a8abb4" stroke-width="0.2">4</text>
<text x="965.6" y="547" font-size="8.6" font-weight="normal" text-anchor="middle" fill="#a8abb4" stroke="#a8abb4" stroke-width="0.2">7</text>
<g fill="#e6e6e6"><path d="M8,567 h9.5 v9.4 h-3.6 v-5.8 h-5.9 z"/><circle cx="19.8" cy="569" r="1.9"/><path d="M23.3,567 h4 l-4.6,9.4 h-4 z"/></g>
<text x="33.3" y="576.4" font-size="13.3" font-weight="bold" fill="#e6e6e6">TradingView</text>
</g></svg></body></html>
